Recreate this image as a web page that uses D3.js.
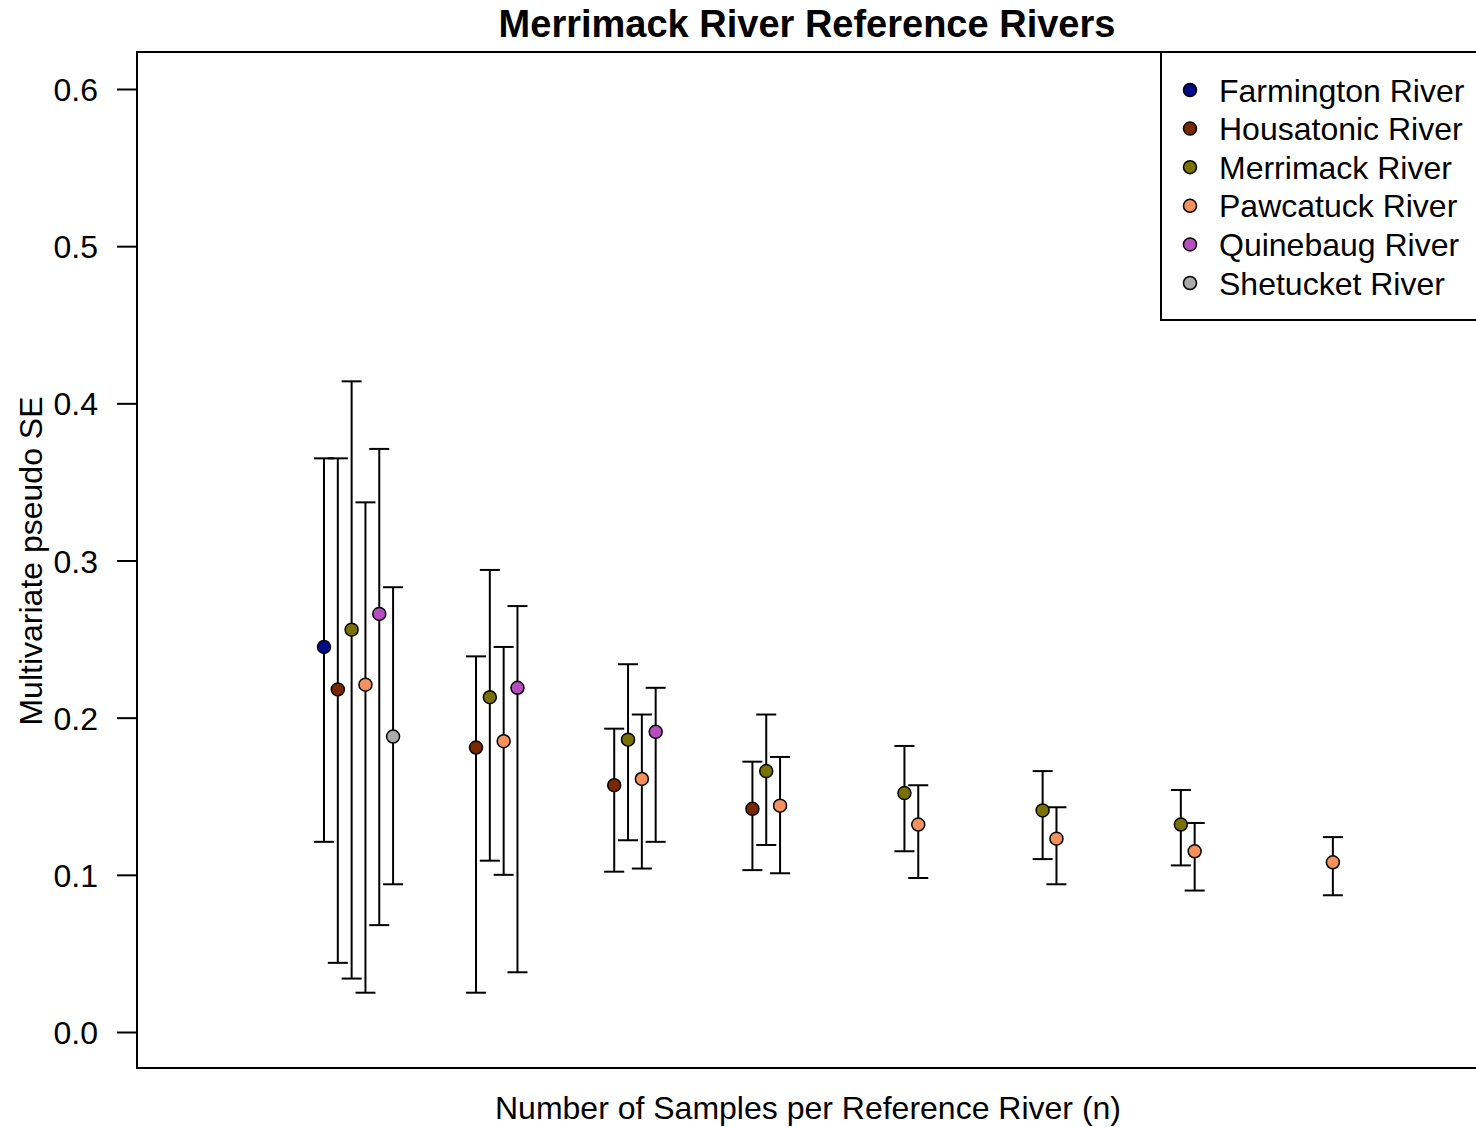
<!DOCTYPE html>
<html>
<head>
<meta charset="utf-8">
<script src="https://cdn.jsdelivr.net/npm/d3@7"></script>
<style>
  html, body { margin: 0; padding: 0; background: #fff; }
  svg { display: block; font-family: "Liberation Sans", Arial, sans-serif; }
</style>
</head>
<body>
<svg id="chart" width="1476" height="1127"></svg>
<script>
// Reference rivers, in legend order, with their point fills
const rivers = ["Farmington River", "Housatonic River", "Merrimack River",
                "Pawcatuck River", "Quinebaug River", "Shetucket River"];
const riverColors = ["#000B8C", "#7A2800", "#7A7200", "#F4915C", "#B64EC2", "#ABABAB"];

// Sample-size steps along the x axis (one cluster per step)
const sampleSteps = [1, 2, 3, 4, 5, 6, 7, 8];

// Multivariate pseudo SE per river (rows) and sample-size step (columns); null = not computed
const seMean = [
  [0.245, null,  null,  null,  null,  null,  null,  null ],
  [0.218, 0.181, 0.157, 0.142, null,  null,  null,  null ],
  [0.256, 0.213, 0.186, 0.166, 0.152, 0.141, 0.132, null ],
  [0.221, 0.185, 0.161, 0.144, 0.132, 0.123, 0.115, 0.108],
  [0.266, 0.219, 0.191, null,  null,  null,  null,  null ],
  [0.188, null,  null,  null,  null,  null,  null,  null ]
];
const seLower = [
  [0.121, null,  null,  null,  null,  null,  null,  null ],
  [0.044, 0.025, 0.102, 0.103, null,  null,  null,  null ],
  [0.034, 0.109, 0.122, 0.119, 0.115, 0.110, 0.106, null ],
  [0.025, 0.100, 0.104, 0.101, 0.098, 0.094, 0.090, 0.087],
  [0.068, 0.038, 0.121, null,  null,  null,  null,  null ],
  [0.094, null,  null,  null,  null,  null,  null,  null ]
];
const seUpper = [
  [0.365, null,  null,  null,  null,  null,  null,  null ],
  [0.365, 0.239, 0.193, 0.172, null,  null,  null,  null ],
  [0.414, 0.294, 0.234, 0.202, 0.182, 0.166, 0.154, null ],
  [0.337, 0.245, 0.202, 0.175, 0.157, 0.143, 0.133, 0.124],
  [0.371, 0.271, 0.219, null,  null,  null,  null,  null ],
  [0.283, null,  null,  null,  null,  null,  null,  null ]
];

// Tick values for the y axis
const yTicks = [0.0, 0.1, 0.2, 0.3, 0.4, 0.5, 0.6];

// Horizontal dodge between rivers within a cluster
const dodge = 0.1;

const svg = d3.select("#chart");
const plot = { left: 137, top: 52, right: 1490, bottom: 1068 };

const x = d3.scaleLinear().domain([-0.353, 9.437]).range([plot.left, plot.right]);
const y = d3.scaleLinear().domain([0, 0.6]).range([1032, 89]);

// Flatten into drawable records
const records = [];
rivers.forEach((river, ri) => {
  sampleSteps.forEach((step, gi) => {
    if (seMean[ri][gi] === null) return;
    records.push({
      river, ri, step,
      xv: step + ri * dodge,
      mean: seMean[ri][gi],
      lo: seLower[ri][gi],
      hi: seUpper[ri][gi]
    });
  });
});

// Plot frame
svg.append("rect")
  .attr("x", plot.left).attr("y", plot.top)
  .attr("width", plot.right - plot.left).attr("height", plot.bottom - plot.top)
  .attr("fill", "none").attr("stroke", "#000").attr("stroke-width", 2);

// Y axis
const yAxis = svg.append("g")
  .attr("transform", `translate(${plot.left - 20},0)`)
  .call(d3.axisLeft(y).tickValues(yTicks).tickFormat(d3.format(".1f")).tickSize(0).tickPadding(0));
yAxis.select(".domain").remove();
yAxis.selectAll(".tick line")
  .attr("x1", 0).attr("x2", 20)
  .attr("stroke", "#000").attr("stroke-width", 2);
yAxis.selectAll(".tick text")
  .attr("x", -19)
  .attr("dy", "0.36em")
  .attr("font-size", 32)
  .attr("font-family", "Liberation Sans, Arial, sans-serif")
  .attr("fill", "#000");

// Error bars
const bars = svg.append("g").attr("stroke", "#000").attr("stroke-width", 2);
records.forEach(d => {
  const cx = x(d.xv);
  bars.append("line").attr("x1", cx).attr("x2", cx).attr("y1", y(d.lo)).attr("y2", y(d.hi));
  bars.append("line").attr("x1", cx - 10).attr("x2", cx + 10).attr("y1", y(d.hi)).attr("y2", y(d.hi));
  bars.append("line").attr("x1", cx - 10).attr("x2", cx + 10).attr("y1", y(d.lo)).attr("y2", y(d.lo));
});

// Points
svg.append("g").selectAll("circle")
  .data(records)
  .join("circle")
  .attr("cx", d => x(d.xv))
  .attr("cy", d => y(d.mean))
  .attr("r", 6.5)
  .attr("fill", d => riverColors[d.ri])
  .attr("stroke", "#000")
  .attr("stroke-width", 1.5);

// Legend
const legend = svg.append("g");
legend.append("rect")
  .attr("x", 1161).attr("y", 52).attr("width", 340).attr("height", 268)
  .attr("fill", "#fff").attr("stroke", "#000").attr("stroke-width", 2);
rivers.forEach((river, i) => {
  const ly = 90 + i * 38.6;
  legend.append("circle")
    .attr("cx", 1190).attr("cy", ly).attr("r", 6.5)
    .attr("fill", riverColors[i]).attr("stroke", "#000").attr("stroke-width", 1.5);
  legend.append("text")
    .attr("x", 1219).attr("y", ly).attr("dy", "0.36em")
    .attr("font-size", 32).attr("fill", "#000")
    .text(river);
});

// Titles
svg.append("text")
  .attr("x", 807).attr("y", 37)
  .attr("text-anchor", "middle")
  .attr("font-size", 38).attr("font-weight", "bold")
  .text("Merrimack River Reference Rivers");

svg.append("text")
  .attr("x", 808).attr("y", 1119)
  .attr("text-anchor", "middle")
  .attr("font-size", 32)
  .text("Number of Samples per Reference River (n)");

svg.append("text")
  .attr("transform", "translate(42,561) rotate(-90)")
  .attr("text-anchor", "middle")
  .attr("font-size", 32)
  .text("Multivariate pseudo SE");
</script>
</body>
</html>
